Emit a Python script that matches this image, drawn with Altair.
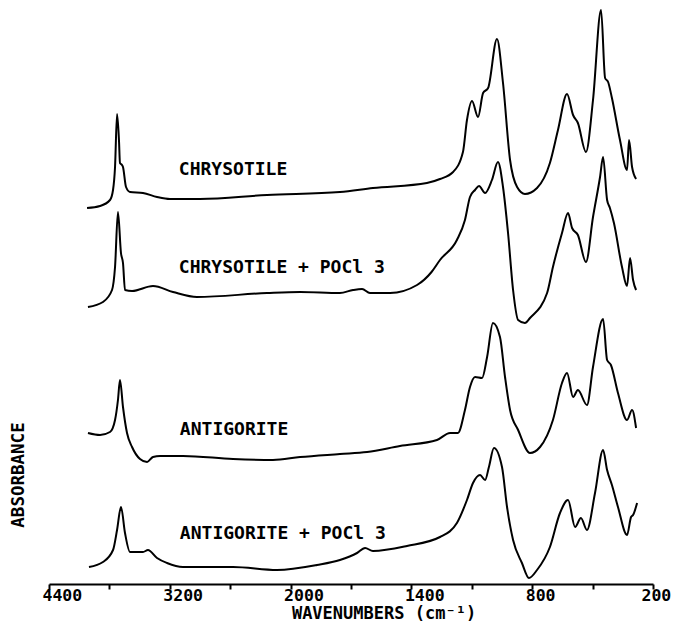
import altair as alt
import pandas as pd

# ---------------- data ----------------
# wavenumbers (cm-1) and absorbance (arbitrary units, curves offset vertically)
chrys_wn = [4022, 3893, 3794, 3764, 3744, 3724, 3705, 3695, 3675, 3665, 3635, 3595, 3466, 3327,
            3198, 2900, 2234, 1755, 1591, 1323, 1258, 1193, 1144, 1124, 1099, 1069, 1044, 1019,
            975, 945, 910, 875, 836, 776, 712, 672, 627, 597, 573, 533, 498, 458, 438, 423, 404,
            364, 329, 319, 304, 284]
chrys_abs = [3.76, 3.78, 3.84, 3.94, 4.17, 4.70, 4.44, 4.21, 4.19, 4.17, 3.97, 3.92, 3.91, 3.87,
             3.85, 3.85, 3.89, 3.92, 3.96, 4.01, 4.05, 4.12, 4.32, 4.64, 4.83, 4.67, 4.91, 4.96,
             5.45, 5.01, 4.24, 3.97, 3.90, 3.96, 4.21, 4.54, 4.90, 4.69, 4.61, 4.32, 4.84, 5.74,
             5.06, 5.02, 4.86, 4.44, 4.14, 4.44, 4.17, 4.05]

chrysp_wn = [4013, 3864, 3774, 3744, 3715, 3685, 3665, 3645, 3575, 3367, 3168, 2930, 2234, 1953,
             1755, 1690, 1645, 1606, 1506, 1372, 1300, 1258, 1174, 1134, 1109, 1084, 1064, 1034,
             1000, 970, 945, 920, 895, 870, 836, 811, 726, 697, 652, 622, 602, 573, 533, 498, 463,
             448, 428, 414, 394, 354, 329, 314, 299, 284]
chrysp_abs = [2.77, 2.82, 2.94, 3.17, 3.72, 3.31, 3.21, 2.94, 2.93, 2.98, 2.92, 2.87, 2.91, 2.92,
              2.91, 2.94, 2.95, 2.91, 2.91, 2.99, 3.12, 3.24, 3.44, 3.64, 3.87, 3.94, 3.98, 3.91,
              4.04, 4.22, 3.97, 3.51, 2.94, 2.64, 2.61, 2.66, 2.91, 3.17, 3.51, 3.71, 3.56, 3.49,
              3.22, 3.67, 4.07, 4.27, 3.84, 3.76, 3.61, 3.17, 2.98, 3.26, 3.04, 2.94]

anti_wn = [4013, 3893, 3794, 3744, 3715, 3695, 3665, 3625, 3575, 3496, 3426, 3367, 3297, 3069,
           2572, 2175, 1953, 1755, 1620, 1457, 1273, 1208, 1169, 1134, 1109, 1084, 1049, 1024,
           995, 960, 935, 910, 870, 811, 761, 697, 652, 627, 597, 573, 528, 498, 448, 428, 409,
           374, 329, 304, 284]
anti_abs = [1.51, 1.49, 1.52, 1.64, 1.84, 2.04, 1.77, 1.51, 1.37, 1.25, 1.22, 1.27, 1.28, 1.28,
            1.25, 1.24, 1.27, 1.30, 1.32, 1.38, 1.44, 1.51, 1.51, 1.74, 1.97, 2.07, 2.06, 2.27,
            2.61, 2.47, 2.07, 1.74, 1.54, 1.31, 1.37, 1.64, 2.01, 2.11, 1.87, 1.94, 1.79, 2.17,
            2.65, 2.24, 2.19, 1.91, 1.64, 1.74, 1.56]

antip_wn = [4003, 3864, 3764, 3724, 3685, 3645, 3595, 3466, 3417, 3327, 3228, 3069, 2572, 2135,
            1869, 1755, 1670, 1630, 1591, 1422, 1258, 1174, 1124, 1094, 1059, 1034, 1015, 990,
            950, 925, 895, 851, 816, 776, 712, 662, 622, 587, 558, 528, 488, 448, 428, 404, 374,
            329, 309, 299, 279]
antip_abs = [0.17, 0.22, 0.34, 0.54, 0.77, 0.51, 0.32, 0.32, 0.34, 0.26, 0.21, 0.17, 0.17, 0.14,
             0.19, 0.24, 0.31, 0.36, 0.33, 0.38, 0.47, 0.61, 0.84, 1.01, 1.09, 1.04, 1.17, 1.36,
             1.17, 0.77, 0.44, 0.21, 0.06, 0.14, 0.37, 0.71, 0.84, 0.57, 0.66, 0.54, 0.91, 1.34,
             1.14, 0.99, 0.77, 0.49, 0.67, 0.69, 0.81]

sample_names = ["CHRYSOTILE", "CHRYSOTILE + POCl 3", "ANTIGORITE", "ANTIGORITE + POCl 3"]
label_wn = [3110, 3110, 3100, 3100]
label_abs = [4.09, 3.11, 1.49, 0.45]

tick_values = [4400, 3800, 3200, 2600, 2000, 1700, 1400, 1100, 800, 500, 200]
tick_labels = [4400, 3200, 2000, 1400, 800, 200]

x_title = "WAVENUMBERS (cm⁻¹)"
y_title = "ABSORBANCE"

# ---------------- build tables ----------------
frames = []
for name, wn, ab in zip(sample_names,
                        [chrys_wn, chrysp_wn, anti_wn, antip_wn],
                        [chrys_abs, chrysp_abs, anti_abs, antip_abs]):
    frames.append(pd.DataFrame({"wavenumber": wn, "absorbance": ab, "sample": name}))
spectra = pd.concat(frames, ignore_index=True)
labels = pd.DataFrame({"wavenumber": label_wn, "absorbance": label_abs, "text": sample_names})

W, H = 604, 576
x_scale = alt.Scale(domain=[4400, 2000, 200], range=[0, W * 0.4, W], nice=False, zero=False)
y_scale = alt.Scale(domain=[0, 5.76], nice=False, zero=False)

font = "DejaVu Sans Mono"
label_expr = "indexof([" + ",".join(str(v) for v in tick_labels) + "], datum.value) >= 0 ? datum.label : ''"

lines = alt.Chart(spectra).mark_line(color="black", strokeWidth=2, interpolate="monotone").encode(
    x=alt.X("wavenumber:Q", scale=x_scale,
            axis=alt.Axis(values=tick_values, labelExpr=label_expr, format="d", title=None,
                          domainColor="black", domainWidth=2, tickColor="black", tickWidth=2,
                          tickSize=5, labelFont=font, labelFontSize=16.5, labelColor="black",
                          labelFontWeight="bold",
                          labelAlign="left",
                          labelOffset={"condition": {"test": "datum.value == 200", "value": -12},
                                       "value": -7},
                          labelPadding=-2, labelOverlap=False,
                          labelFlush=False, labelBound=False, grid=False)),
    y=alt.Y("absorbance:Q", scale=y_scale, axis=None),
    detail="sample:N",
    order=alt.Order("wavenumber:Q", sort="descending"),
)

texts = alt.Chart(labels).mark_text(font=font, fontSize=18, fontWeight="bold", color="black",
                                    align="left", baseline="alphabetic").encode(
    x=alt.X("wavenumber:Q", scale=x_scale),
    y=alt.Y("absorbance:Q", scale=y_scale),
    text="text:N",
)

xtitle = alt.Chart(pd.DataFrame({"t": [x_title]})).mark_text(
    font=font, fontSize=17, fontWeight="bold", color="black", align="center",
    baseline="alphabetic").encode(
    x=alt.value(335), y=alt.value(611), text="t:N")

ytitle = alt.Chart(pd.DataFrame({"t": [y_title]})).mark_text(
    font=font, fontSize=17.5, fontWeight="bold", color="black", align="center",
    baseline="middle", angle=270).encode(
    x=alt.value(-30), y=alt.value(467), text="t:N")

chart = alt.layer(lines, texts, xtitle, ytitle).properties(
    width=W, height=H,
    autosize=alt.AutoSizeParams(type="none"),
    padding={"left": 41, "top": 0, "right": 18, "bottom": 38},
).configure(background="white").configure_view(strokeOpacity=0, strokeWidth=0)

chart.save("out.html", embed_options={"renderer": "svg", "actions": False})
